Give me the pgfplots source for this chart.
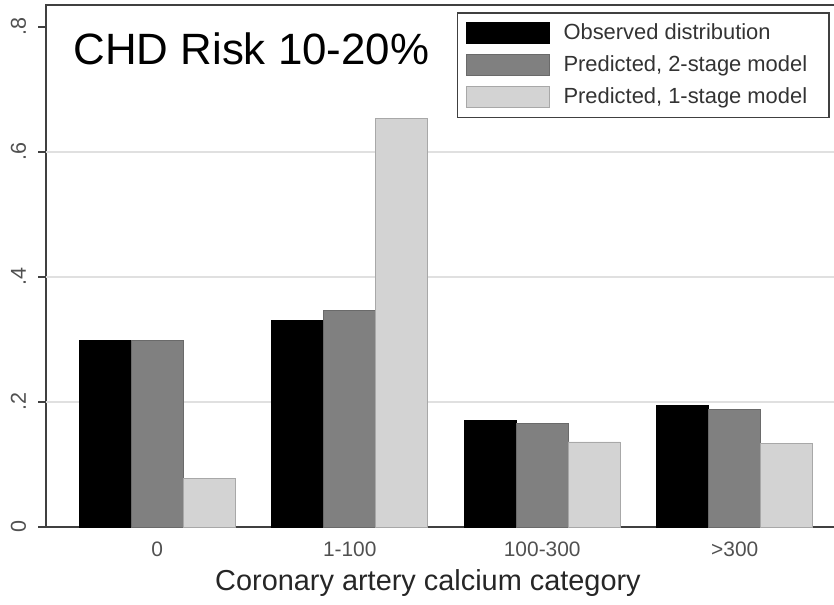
\documentclass[border=0pt]{standalone}
\usepackage{fontspec}
\setmainfont{Liberation Sans}
\usepackage{pgfplots}
\pgfplotsset{compat=1.18}
\definecolor{frame}{HTML}{404040}
\definecolor{ticktext}{HTML}{505050}
\definecolor{midgray}{HTML}{808080}
\definecolor{midedge}{HTML}{6a6a6a}
\definecolor{lightgray2}{HTML}{D3D3D3}
\definecolor{lightedge}{HTML}{A8A8A8}
\begin{document}
\begin{tikzpicture}
\begin{axis}[
  at={(0,0)}, anchor=south west,
  width=400bp, height=261bp, scale only axis,
  xmin=-0.578, xmax=3.578, ymin=0, ymax=0.835,
  ybar=0pt, bar width=26bp,
  xtick={0,1,2,3}, xticklabels={0,1-100,100-300,>300},
  xtick style={draw=none},
  xticklabel style={font=\fontsize{10.5}{12}\selectfont, text=ticktext, yshift=0bp},
  ytick={0,0.2,0.4,0.6,0.8}, yticklabels={0,.2,.4,.6,.8},
  yticklabel style={rotate=90, anchor=south, font=\fontsize{10.8}{12}\selectfont, text=ticktext, yshift=2.5bp},
  tick align=outside, major tick length=4bp,
  ytick style={draw=frame, line width=0.9bp},
  axis line style={draw=frame, line width=1bp},
  extra y ticks={0.2,0.4,0.6}, extra y tick labels={},
  extra y tick style={grid=major, major grid style={draw=black!12, line width=0.7bp}, major tick length=0pt},
  xlabel={Coronary artery calcium category},
  xlabel style={at={(rel axis cs:0.4775,-0.1207)}, anchor=base, inner sep=0pt,
    font=\fontsize{14.5}{17}\selectfont, text=black!85},
  legend cell align=left,
  legend style={at={(0.98,0.9866)}, anchor=north east, draw=frame, line width=0.8bp,
    font=\fontsize{11}{13}\selectfont, text=black!80,
    inner xsep=4bp, inner ysep=3.5bp, row sep=2.5bp,
    /tikz/every odd column/.append style={column sep=5bp}},
  legend image code/.code={\draw[#1, line width=0.5bp] (0bp,-5.25bp) rectangle (41.5bp,5.25bp);},
]
\addplot[fill=black, draw=black] coordinates {(0,0.299) (1,0.331) (2,0.171) (3,0.195)};
\addplot[fill=midgray, draw=midedge] coordinates {(0,0.298) (1,0.346) (2,0.166) (3,0.188)};
\addplot[fill=lightgray2, draw=lightedge] coordinates {(0,0.077) (1,0.654) (2,0.136) (3,0.134)};
\legend{Observed distribution, {Predicted, 2-stage model\hspace*{5bp}}, {Predicted, 1-stage model}}
\node[anchor=north west, inner sep=0pt, font=\fontsize{22}{26}\selectfont] at (rel axis cs:0.034,0.948) {CHD Risk 10-20\%};
\end{axis}
\pgfresetboundingbox
\useasboundingbox (-23bp,-39bp) rectangle (394bp,263.5bp);
\end{tikzpicture}
\end{document}
